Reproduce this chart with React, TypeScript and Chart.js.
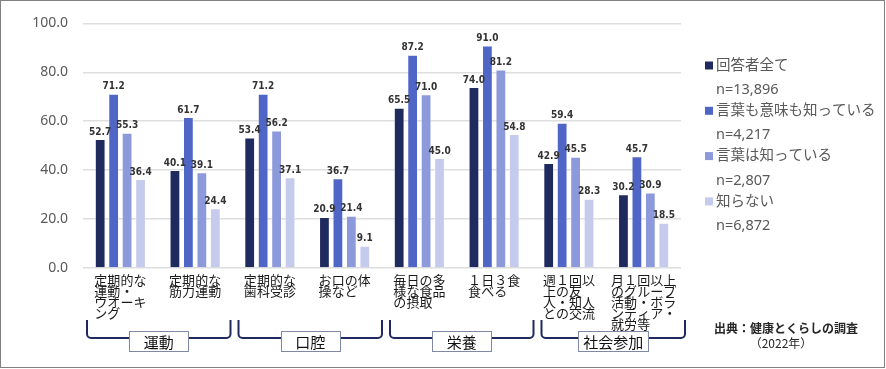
import React, { useEffect, useRef } from "react";
import { Chart, registerables } from "chart.js";

Chart.register(...registerables);

const categoryLabels: string[][] = [
  ["定期的な", "運動・", "ウオーキ", "ング"],
  ["定期的な", "筋力運動"],
  ["定期的な", "歯科受診"],
  ["お口の体", "操など"],
  ["毎日の多", "様な食品", "の摂取"],
  ["１日３食", "食べる"],
  ["週１回以", "上の友", "人・知人", "との交流"],
  ["月１回以上", "のグループ", "活動・ボラ", "ンティア・", "就労等"],
];

const groupNames = ["運動", "口腔", "栄養", "社会参加"];
const groupSpans: [number, number][] = [
  [0, 1],
  [2, 3],
  [4, 5],
  [6, 7],
];

const seriesNames = ["回答者全て", "言葉も意味も知っている", "言葉は知っている", "知らない"];
const seriesN = ["n=13,896", "n=4,217", "n=2,807", "n=6,872"];

const allRespondents = [52.7, 40.1, 53.4, 20.9, 65.5, 74.0, 42.9, 30.2];
const knowWordAndMeaning = [71.2, 61.7, 71.2, 36.7, 87.2, 91.0, 59.4, 45.7];
const knowWordOnly = [55.3, 39.1, 56.2, 21.4, 71.0, 81.2, 45.5, 30.9];
const dontKnow = [36.4, 24.4, 37.1, 9.1, 45.0, 54.8, 28.3, 18.5];

const yTicks = [0, 20, 40, 60, 80, 100];

const sourceLines = ["出典：健康とくらしの調査", "（2022年）"];

const colors = ["#1f2a5f", "#4f66c6", "#8c99da", "#c5cbec"];

const overlayPlugin = {
  id: "overlay",
  afterDraw(chart: any) {
    const ctx = chart.ctx as CanvasRenderingContext2D;
    const xScale = chart.scales.x;
    const area = chart.chartArea;
    ctx.save();

    // data labels
    ctx.font = "bold 10px 'Liberation Sans Narrow', 'DejaVu Sans Condensed', sans-serif";
    ctx.fillStyle = "#333333";
    ctx.textAlign = "center";
    ctx.textBaseline = "bottom";
    chart.data.datasets.forEach((ds: any, di: number) => {
      const meta = chart.getDatasetMeta(di);
      meta.data.forEach((bar: any, i: number) => {
        const v = ds.data[i] as number;
        ctx.fillText(v.toFixed(1), bar.x, bar.y - 2);
      });
    });

    // category labels (lines left-aligned in a centered block)
    ctx.font = "13px 'Noto Sans CJK JP', sans-serif";
    ctx.fillStyle = "#1a1a1a";
    ctx.textAlign = "left";
    ctx.textBaseline = "middle";
    categoryLabels.forEach((lines, i) => {
      const cx = xScale.getPixelForValue(i);
      let maxW = 0;
      lines.forEach((l) => (maxW = Math.max(maxW, ctx.measureText(l).width)));
      const sx = cx - maxW / 2;
      lines.forEach((l, k) => {
        ctx.fillText(l, sx, area.bottom + 12 + k * 11);
      });
    });

    // group brackets
    const catW = (area.right - area.left) / categoryLabels.length;
    groupSpans.forEach((span, g) => {
      const left = xScale.getPixelForValue(span[0]) - catW / 2 + 4 + g * 2;
      const right = xScale.getPixelForValue(span[1]) + catW / 2 - 2 + g * 2;
      const top = area.bottom + 52;
      const yLine = area.bottom + 70;
      const r = 4;
      ctx.strokeStyle = "#1f2a5f";
      ctx.lineWidth = 2;
      ctx.beginPath();
      ctx.moveTo(left, top);
      ctx.lineTo(left, yLine - r);
      ctx.arcTo(left, yLine, left + r, yLine, r);
      ctx.lineTo(right - r, yLine);
      ctx.arcTo(right, yLine, right, yLine - r, r);
      ctx.lineTo(right, top);
      ctx.stroke();

      ctx.font = "15px 'Noto Sans CJK JP', sans-serif";
      const tw = ctx.measureText(groupNames[g]).width;
      const bw = Math.max(59, tw + 10);
      const cx = (left + right) / 2;
      const bx = Math.round(cx - bw / 2) + 0.5;
      const by = area.bottom + 63.5;
      ctx.fillStyle = "#ffffff";
      ctx.fillRect(bx, by, bw, 20);
      ctx.strokeStyle = "#8088a8";
      ctx.lineWidth = 1;
      ctx.strokeRect(bx, by, bw, 20);
      ctx.fillStyle = "#111111";
      ctx.textAlign = "center";
      ctx.textBaseline = "middle";
      ctx.fillText(groupNames[g], cx, by + 10.5);
    });

    // legend
    const lx = area.right + 24;
    const itemY0 = 65.5;
    const pitch = 45.3;
    seriesNames.forEach((name, i) => {
      const y = itemY0 + i * pitch;
      ctx.fillStyle = colors[i];
      ctx.fillRect(lx, y - 4, 8, 8);
      ctx.font = "14.5px 'Noto Sans', 'Noto Sans CJK JP', sans-serif";
      ctx.fillStyle = "#595959";
      ctx.textAlign = "left";
      ctx.textBaseline = "middle";
      ctx.fillText(name, lx + 11, y);
      ctx.fillText(seriesN[i], lx + 11, y + 24.5);
    });

    // source
    ctx.fillStyle = "#262626";
    ctx.textAlign = "center";
    ctx.textBaseline = "middle";
    ctx.font = "bold 12px 'Noto Sans CJK JP', sans-serif";
    ctx.fillText(sourceLines[0], 786, area.bottom + 60);
    ctx.font = "12px 'Noto Sans CJK JP', sans-serif";
    ctx.fillText(sourceLines[1], 781, area.bottom + 75);

    ctx.restore();
  },
};

export default function App() {
  const canvasRef = useRef<HTMLCanvasElement | null>(null);

  useEffect(() => {
    if (!canvasRef.current) return;
    const chart = new Chart(canvasRef.current, {
      type: "bar",
      data: {
        labels: categoryLabels.map((l) => l.join("")),
        datasets: [allRespondents, knowWordAndMeaning, knowWordOnly, dontKnow].map((d, i) => ({
          label: seriesNames[i],
          data: d,
          backgroundColor: colors[i],
          borderColor: "rgba(255,255,255,0.35)",
          borderWidth: 1,
          barPercentage: 0.8,
          categoryPercentage: 0.72,
        })),
      },
      options: {
        responsive: false,
        animation: false,
        devicePixelRatio: 1,
        layout: { padding: { left: 0, right: 205, top: 17, bottom: 101 } },
        plugins: {
          legend: { display: false },
          tooltip: { enabled: false },
        },
        scales: {
          x: {
            grid: { display: false, drawTicks: false },
            border: { display: false },
            ticks: { display: false },
          },
          y: {
            min: 0,
            max: 100,
            afterBuildTicks: (scale: any) => {
              scale.ticks = yTicks.map((v) => ({ value: v }));
            },
            afterFit: (scale: any) => {
              scale.width = 83;
            },
            grid: { color: "#dedede", lineWidth: 1.5, drawTicks: false },
            border: { display: false },
            ticks: {
              padding: 15,
              color: "#595959",
              font: { family: "'Noto Sans', sans-serif", size: 14 },
              callback: (v: any) => Number(v).toFixed(1),
            },
          },
        },
      },
      plugins: [overlayPlugin],
    });
    return () => chart.destroy();
  }, []);

  return (
    <div style={{ position: "fixed", left: 0, top: 0, width: 886, height: 369, background: "#fff" }}>
      <canvas ref={canvasRef} width={886} height={369} style={{ display: "block" }} />
      <div
        style={{
          position: "absolute",
          left: 0,
          top: 0,
          width: 885,
          height: 368,
          boxSizing: "border-box",
          border: "1px solid #808080",
          pointerEvents: "none",
        }}
      />
    </div>
  );
}
